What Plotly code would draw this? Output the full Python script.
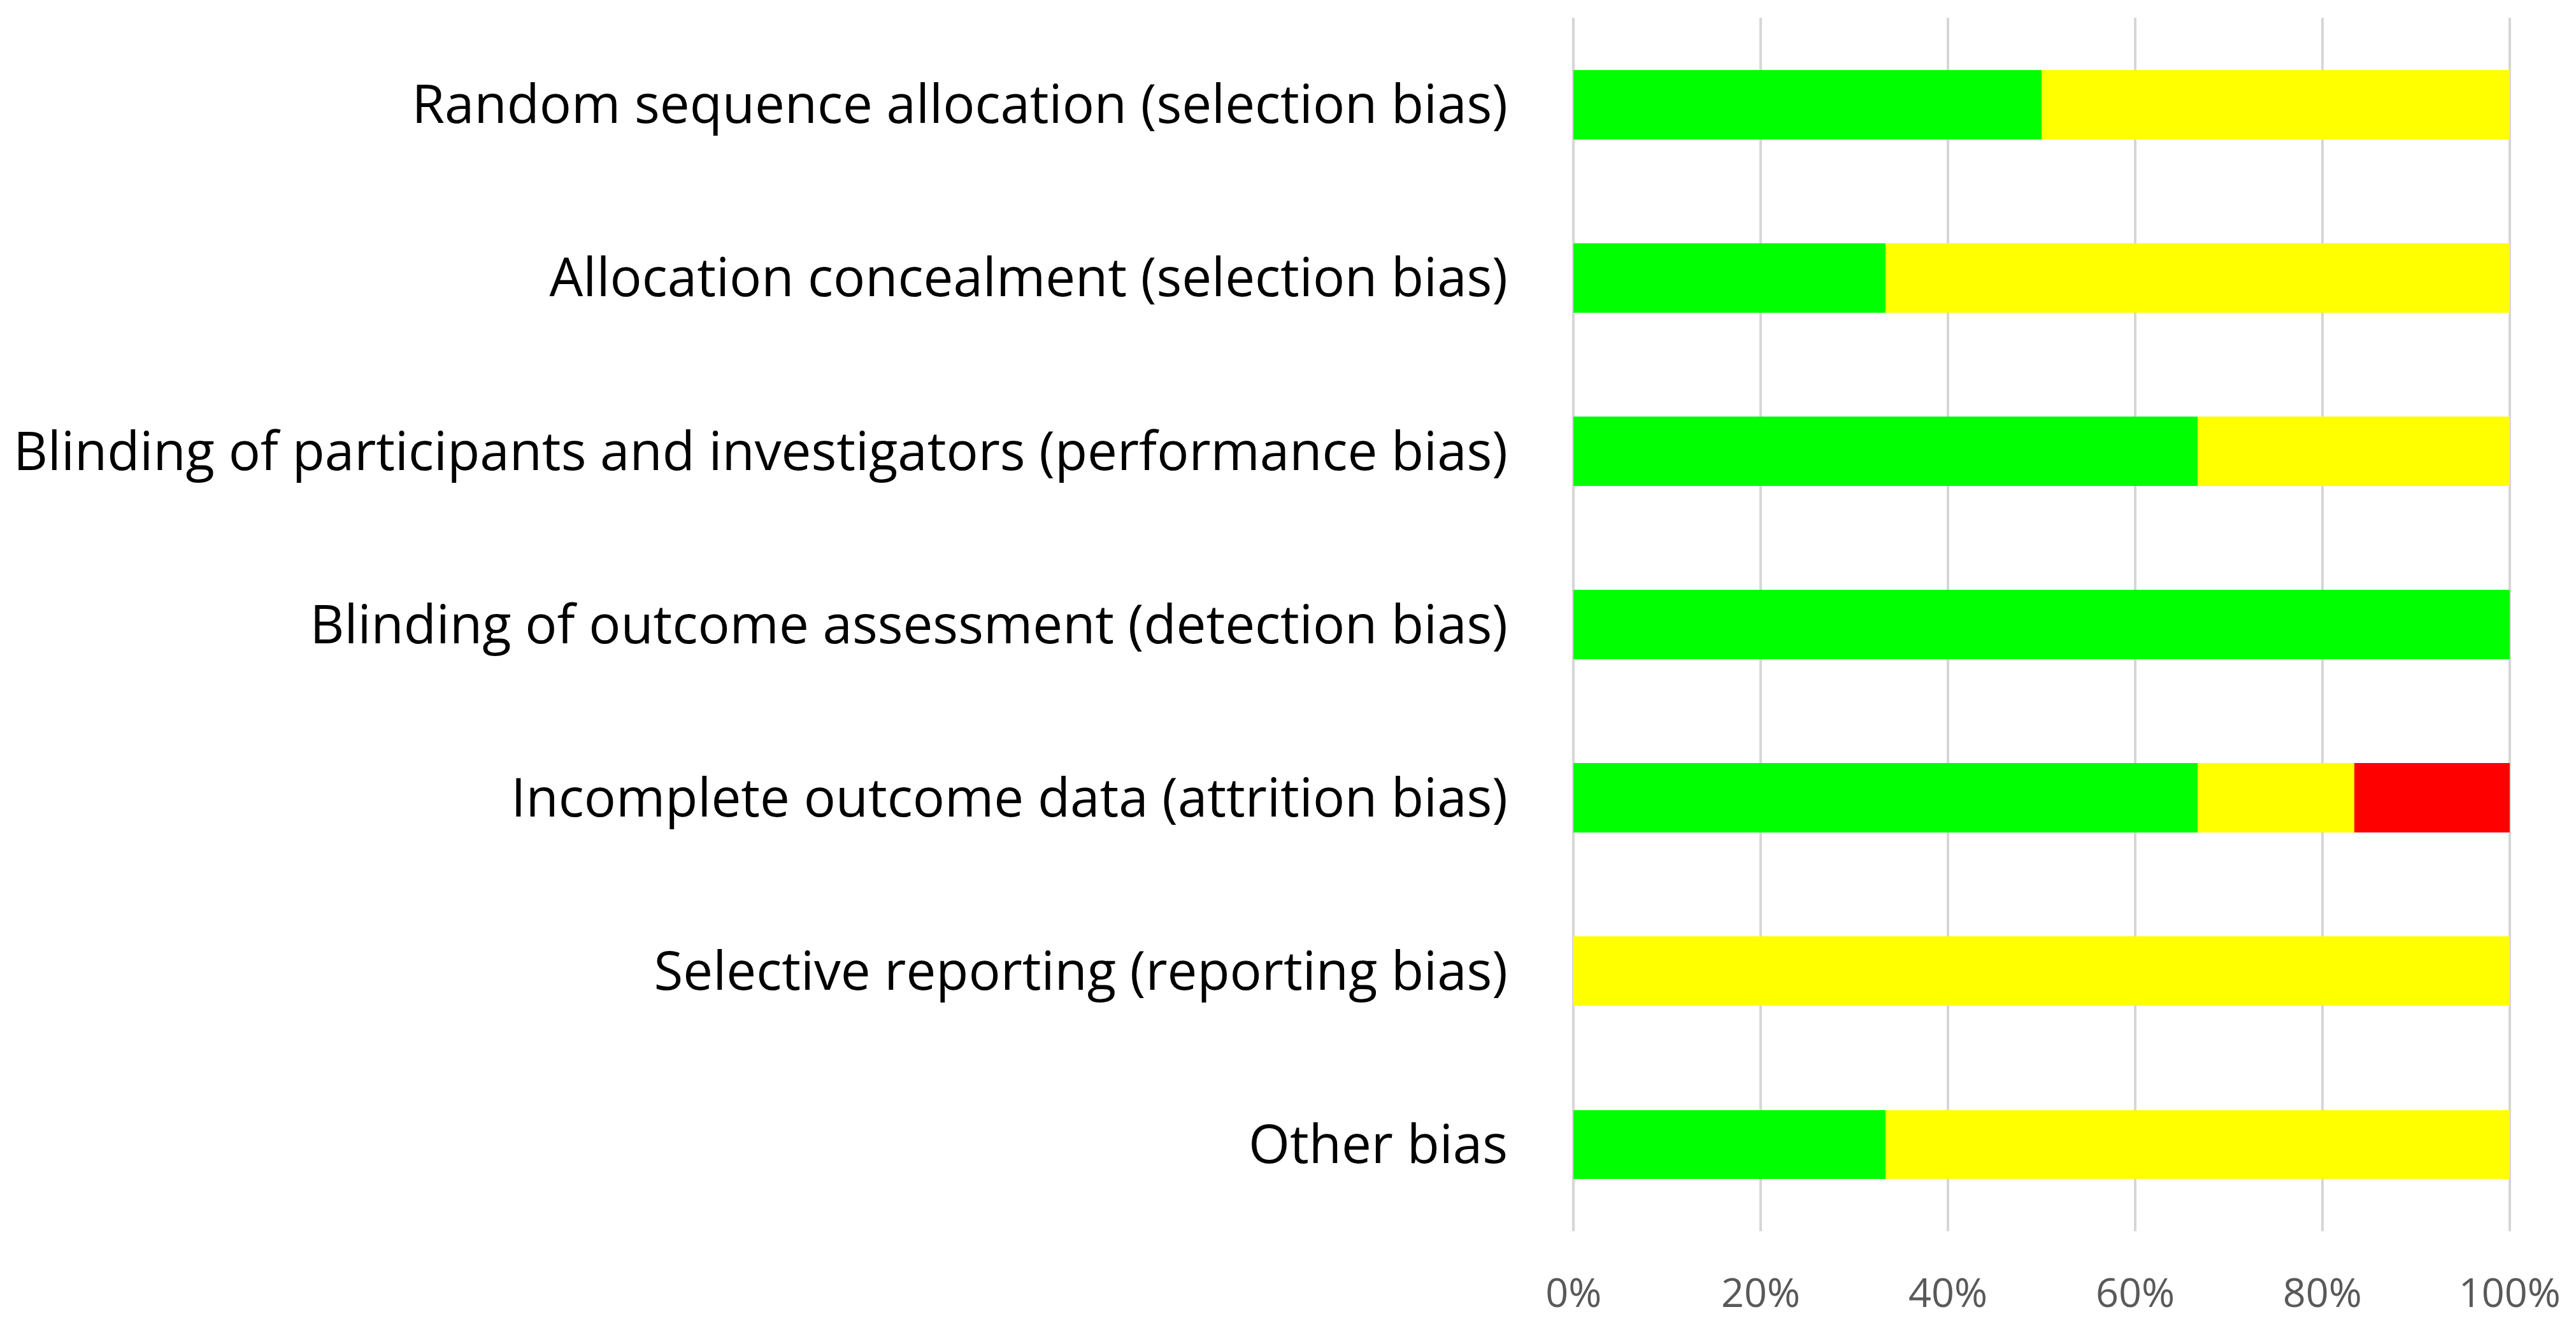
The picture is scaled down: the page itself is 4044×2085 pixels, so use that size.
import plotly.graph_objects as go

categories = [
    "Random sequence allocation (selection bias)",
    "Allocation concealment (selection bias)",
    "Blinding of participants and investigators (performance bias)",
    "Blinding of outcome assessment (detection bias)",
    "Incomplete outcome data (attrition bias)",
    "Selective reporting (reporting bias)",
    "Other bias",
]
low_risk = [50, 33.3, 66.7, 100, 66.7, 0, 33.3]
unclear_risk = [50, 66.7, 33.3, 0, 16.7, 100, 66.7]
high_risk = [0, 0, 0, 0, 16.6, 0, 0]
tick_vals = [0, 20, 40, 60, 80, 100]
tick_text = ["0%", "20%", "40%", "60%", "80%", "100%"]

series = [
    ("Low risk of bias", low_risk, "#00FF00"),
    ("Unclear risk of bias", unclear_risk, "#FFFF00"),
    ("High risk of bias", high_risk, "#FF0000"),
]

fig = go.Figure()
for name, vals, color in series:
    fig.add_trace(go.Bar(
        y=categories, x=vals, name=name, orientation="h",
        marker=dict(color=color, line=dict(width=0)),
        width=0.4,
    ))

fig.update_layout(
    barmode="stack",
    width=4044, height=2085,
    margin=dict(l=2460, r=110, t=20, b=160),
    paper_bgcolor="white", plot_bgcolor="white",
    showlegend=False,
    font=dict(family="Open Sans", color="black"),
)
fig.update_xaxes(
    range=[-0.15, 100.15], tickvals=tick_vals, ticktext=tick_text,
    showgrid=True, gridcolor="#D6D6D6", gridwidth=4,
    zeroline=False, showline=False,
    ticks="outside", ticklen=42, tickcolor="rgba(0,0,0,0)",
    tickfont=dict(family="Open Sans", size=63, color="#595959"),
)
fig.update_yaxes(
    autorange="reversed", showgrid=False, zeroline=False, showline=False,
    ticks="", ticklabelstandoff=100,
    tickfont=dict(family="Open Sans", size=83.5, color="black"),
)
fig.write_html("out.html")
